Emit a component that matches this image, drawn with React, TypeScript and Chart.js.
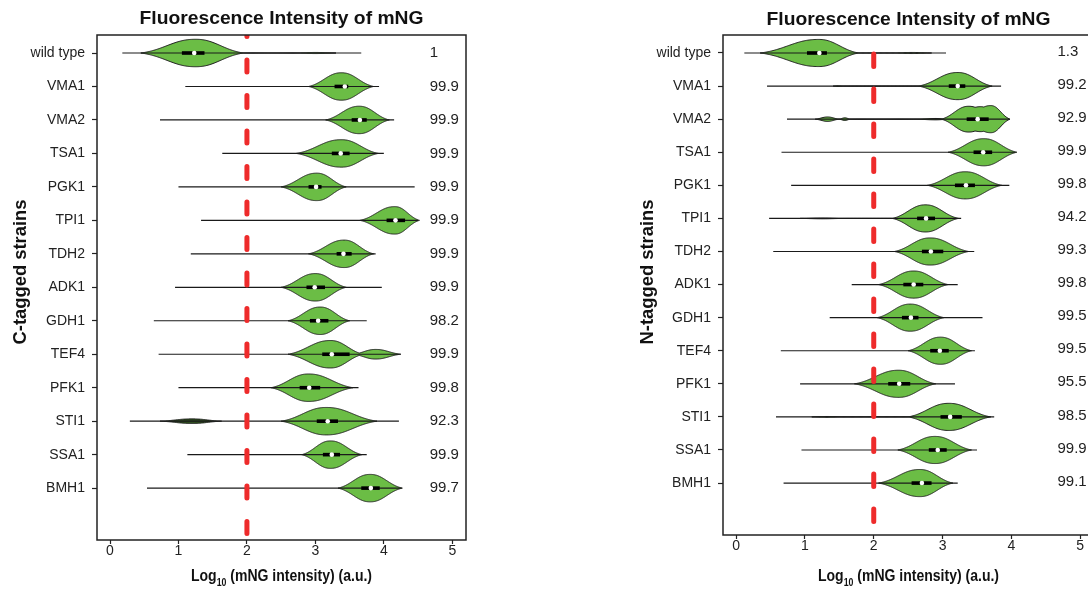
import { useEffect, useRef } from "react";
import { Chart, registerables } from "chart.js";

Chart.register(...registerables);

// ---------------- data ----------------
const strains = ["wild type", "VMA1", "VMA2", "TSA1", "PGK1", "TPI1", "TDH2", "ADK1", "GDH1", "TEF4", "PFK1", "STI1", "SSA1", "BMH1"];
const xTickValues = [0, 1, 2, 3, 4, 5];
const thresholdLog = 2;
const percentColumnX = 4.67;

// C-tagged panel
const cPercent = ["1", "99.9", "99.9", "99.9", "99.9", "99.9", "99.9", "99.9", "98.2", "99.9", "99.8", "92.3", "99.9", "99.7"];
const cWhiskerMin = [0.18, 1.1, 0.73, 1.64, 1.0, 1.33, 1.18, 0.95, 0.64, 0.71, 1.0, 0.29, 1.13, 0.54];
const cWhiskerMax = [3.67, 3.93, 4.15, 4.0, 4.45, 4.5, 3.88, 3.97, 3.75, 4.23, 3.63, 4.22, 3.75, 4.26];
const cQ1 = [1.05, 3.28, 3.53, 3.24, 2.9, 4.04, 3.31, 2.87, 2.92, 3.1, 2.77, 3.02, 3.11, 3.67];
const cMedian = [1.23, 3.43, 3.65, 3.37, 3.01, 4.17, 3.41, 2.99, 3.04, 3.24, 2.91, 3.18, 3.24, 3.81];
const cQ3 = [1.38, 3.48, 3.75, 3.5, 3.09, 4.31, 3.53, 3.14, 3.19, 3.5, 3.07, 3.33, 3.36, 3.94];
// violin components: [start, peak, end, relative density]
const cViolins = [
  [[0.45, 1.25, 1.95, 1], [2.72, 3.0, 3.3, 0.04]],
  [[2.9, 3.38, 3.85, 1]],
  [[3.15, 3.64, 4.08, 1]],
  [[2.72, 3.38, 3.92, 1]],
  [[2.5, 3.02, 3.45, 1]],
  [[3.65, 4.16, 4.52, 1]],
  [[2.9, 3.42, 3.85, 1]],
  [[2.5, 3.0, 3.45, 1]],
  [[2.6, 3.07, 3.5, 1]],
  [[2.6, 3.22, 3.7, 1], [3.55, 3.88, 4.25, 0.35]],
  [[2.35, 2.9, 3.55, 1]],
  [[2.5, 3.16, 3.9, 1]],
  [[2.8, 3.22, 3.68, 1]],
  [[3.33, 3.8, 4.27, 1]],
];
// separate dark sub-population: [row, start, peak, end, relative density]
const cDarkLobes = [[11, 0.73, 1.2, 1.63, 0.17]];

// N-tagged panel
const nPercent = ["1.3", "99.2", "92.9", "99.9", "99.8", "94.2", "99.3", "99.8", "99.5", "99.5", "95.5", "98.5", "99.9", "99.1"];
const nWhiskerMin = [0.12, 0.45, 0.74, 0.66, 0.8, 0.48, 0.54, 1.68, 1.36, 0.65, 0.93, 0.58, 0.95, 0.69];
const nWhiskerMax = [3.05, 3.85, 3.97, 4.06, 3.97, 3.27, 3.46, 3.22, 3.58, 3.47, 3.18, 3.75, 3.5, 3.22];
const nQ1 = [1.03, 3.09, 3.35, 3.45, 3.18, 2.63, 2.7, 2.43, 2.41, 2.82, 2.21, 2.97, 2.8, 2.55];
const nMedian = [1.21, 3.22, 3.51, 3.59, 3.34, 2.76, 2.83, 2.58, 2.54, 2.96, 2.37, 3.11, 2.93, 2.7];
const nQ3 = [1.32, 3.33, 3.67, 3.72, 3.47, 2.89, 3.01, 2.72, 2.65, 3.09, 2.53, 3.28, 3.06, 2.84];
const nViolins = [
  [[0.35, 1.2, 1.78, 1], [2.29, 2.56, 2.84, 0.04]],
  [[1.41, 1.48, 1.56, 0.03], [2.65, 3.22, 3.72, 1]],
  [[1.15, 1.33, 1.5, 0.16], [1.5, 1.58, 1.66, 0.1], [2.6, 2.9, 3.1, 0.05], [2.98, 3.38, 3.8, 0.95], [3.15, 3.55, 3.9, 0.92], [3.3, 3.7, 3.98, 1]],
  [[3.08, 3.6, 4.08, 1]],
  [[2.78, 3.33, 3.86, 1]],
  [[0.93, 1.25, 1.58, 0.03], [2.27, 2.75, 3.23, 1]],
  [[2.3, 2.82, 3.38, 1]],
  [[2.07, 2.58, 3.08, 1]],
  [[2.05, 2.53, 3.02, 1]],
  [[2.5, 2.97, 3.42, 1]],
  [[1.72, 2.36, 2.9, 1]],
  [[1.1, 1.32, 1.54, 0.03], [2.5, 3.09, 3.7, 1]],
  [[2.35, 2.89, 3.42, 1]],
  [[2.07, 2.67, 3.15, 1]],
];
const nDarkLobes: number[][] = [];

// ---------------- styling ----------------
const FONT = "'Liberation Sans', Arial, Helvetica, sans-serif";
const GREEN = "#6bbd45";
const DARK_GREEN = "#2f4d20";
const INK = "#1a1a1a";
const RED = "#ee2b2b";

type Panel = {
  canvasLeft: number;
  canvasW: number;
  area: { l: number; r: number; t: number; b: number };
  yMin: number;
  yMax: number;
  yTitle: string;
  yTitleX: number;
  yTitleY: number;
  titleY: number;
  xTitleY: number;
  dash: number[];
  dashOffset: number;
  percentDy: number;
  percent: string[];
  wMin: number[];
  wMax: number[];
  q1: number[];
  med: number[];
  q3: number[];
  violins: number[][][];
  dark: number[][];
};

const CANVAS_H = 592;

const panels: Panel[] = [
  {
    canvasLeft: 0, canvasW: 545,
    area: { l: 97, r: 466, t: 35, b: 540 },
    yMin: -0.538, yMax: 14.55,
    yTitle: "C-tagged strains", yTitleX: 21, yTitleY: 272,
    titleY: 19.5, xTitleY: 577,
    dash: [12, 23.5], dashOffset: 10.5, percentDy: 0,
    percent: cPercent, wMin: cWhiskerMin, wMax: cWhiskerMax, q1: cQ1, med: cMedian, q3: cQ3,
    violins: cViolins, dark: cDarkLobes,
  },
  {
    canvasLeft: 545, canvasW: 560,
    area: { l: 178, r: 549, t: 35, b: 535 },
    yMin: -0.544, yMax: 14.57,
    yTitle: "N-tagged strains", yTitleX: 103, yTitleY: 272,
    titleY: 20.5, xTitleY: 577,
    dash: [12.5, 22.5], dashOffset: 16, percentDy: -1.5,
    percent: nPercent, wMin: nWhiskerMin, wMax: nWhiskerMax, q1: nQ1, med: nMedian, q3: nQ3,
    violins: nViolins, dark: nDarkLobes,
  },
];

const K = 2.0;
const SHAPE_POW = 2.3;
function widthAt(comps: number[][], v: number): number {
  let w = 0;
  const g0 = Math.exp(-0.5 * Math.pow(K, SHAPE_POW));
  for (const [s, p, e, h] of comps) {
    if (v <= s || v >= e) continue;
    const span = v < p ? p - s : e - p;
    const d = Math.abs((v - p) / span);
    const g = Math.exp(-0.5 * Math.pow(d * K, SHAPE_POW));
    const val = (h * (g - g0)) / (1 - g0);
    if (val > w) w = val;
  }
  return w;
}

function drawShape(ctx: CanvasRenderingContext2D, xs: any, yc: number, half: number, comps: number[][], fill: string) {
  const x0 = Math.min(...comps.map((c) => c[0]));
  const x1 = Math.max(...comps.map((c) => c[2]));
  const N = 200;
  const pts: number[][] = [];
  for (let i = 0; i <= N; i++) {
    const v = x0 + ((x1 - x0) * i) / N;
    pts.push([xs.getPixelForValue(v), widthAt(comps, v) * half]);
  }
  ctx.beginPath();
  ctx.moveTo(pts[0][0], yc);
  for (const [px, w] of pts) ctx.lineTo(px, yc - w);
  for (let i = N; i >= 0; i--) ctx.lineTo(pts[i][0], yc + pts[i][1]);
  ctx.closePath();
  ctx.fillStyle = fill;
  ctx.fill();
  ctx.lineWidth = 1;
  ctx.strokeStyle = INK;
  ctx.stroke();
}

function fittedText(ctx: CanvasRenderingContext2D, text: string, cx: number, cy: number, font: string, targetW: number) {
  ctx.font = font;
  const w = ctx.measureText(text).width;
  ctx.save();
  ctx.translate(cx, cy);
  ctx.scale(targetW / w, 1);
  ctx.textAlign = "center";
  ctx.textBaseline = "middle";
  ctx.fillText(text, 0, 0);
  ctx.restore();
}

function makePlugin(p: Panel) {
  return {
    id: "violins",
    beforeDatasetsDraw(chart: any) {
      const { ctx, chartArea } = chart;
      const xs = chart.scales.x;
      const ys = chart.scales.y;
      ctx.save();
      ctx.beginPath();
      ctx.rect(chartArea.left, chartArea.top, chartArea.right - chartArea.left, chartArea.bottom - chartArea.top);
      ctx.clip();
      p.violins.forEach((comps, row) => {
        const yc = ys.getPixelForValue(row);
        const half = Math.abs(ys.getPixelForValue(row + 0.41) - yc);
        drawShape(ctx, xs, yc, half, comps, GREEN);
      });
      p.dark.forEach(([row, s, pk, e, h]) => {
        const yc = ys.getPixelForValue(row);
        const half = Math.abs(ys.getPixelForValue(row + 0.41) - yc);
        drawShape(ctx, xs, yc, half, [[s, pk, e, h]], DARK_GREEN);
      });
      ctx.strokeStyle = INK;
      ctx.lineWidth = 1.2;
      p.wMin.forEach((mn, row) => {
        const yc = ys.getPixelForValue(row);
        ctx.beginPath();
        ctx.moveTo(xs.getPixelForValue(mn), yc);
        ctx.lineTo(xs.getPixelForValue(p.wMax[row]), yc);
        ctx.stroke();
      });
      ctx.fillStyle = "#000";
      p.q1.forEach((a, row) => {
        const yc = ys.getPixelForValue(row);
        const xa = xs.getPixelForValue(a);
        const xb = xs.getPixelForValue(p.q3[row]);
        ctx.fillRect(xa, yc - 1.8, xb - xa, 3.6);
      });
      ctx.restore();
    },
    afterDraw(chart: any) {
      const { ctx, chartArea } = chart;
      const xs = chart.scales.x;
      const ys = chart.scales.y;
      ctx.save();
      // frame
      ctx.strokeStyle = "#222";
      ctx.lineWidth = 1.5;
      ctx.strokeRect(chartArea.left, chartArea.top, chartArea.right - chartArea.left, chartArea.bottom - chartArea.top);
      // percentages
      ctx.fillStyle = "#222";
      ctx.font = `15px ${FONT}`;
      ctx.textAlign = "left";
      ctx.textBaseline = "middle";
      p.percent.forEach((t, row) => {
        ctx.fillText(t, xs.getPixelForValue(percentColumnX), ys.getPixelForValue(row) + p.percentDy);
      });
      const cx = (chartArea.left + chartArea.right) / 2;
      // title
      ctx.fillStyle = "#111";
      fittedText(ctx, "Fluorescence Intensity of mNG", cx, p.titleY, `bold 18px ${FONT}`, 284);
      // x title with subscript
      const f1 = `bold 16px ${FONT}`;
      const f2 = `bold 10px ${FONT}`;
      ctx.font = f1;
      const wA = ctx.measureText("Log").width;
      const wC = ctx.measureText(" (mNG intensity) (a.u.)").width;
      ctx.font = f2;
      const wB = ctx.measureText("10").width;
      const total = wA + wB + wC;
      const sc = 181 / total;
      ctx.save();
      ctx.translate(cx - 90.5, p.xTitleY);
      ctx.scale(sc, 1);
      ctx.textAlign = "left";
      ctx.textBaseline = "middle";
      ctx.font = f1;
      ctx.fillText("Log", 0, 0);
      ctx.font = f2;
      ctx.fillText("10", wA, 6);
      ctx.font = f1;
      ctx.fillText(" (mNG intensity) (a.u.)", wA + wB, 0);
      ctx.restore();
      // y title
      ctx.save();
      ctx.translate(p.yTitleX, p.yTitleY);
      ctx.rotate(-Math.PI / 2);
      fittedText(ctx, p.yTitle, 0, 0, `bold 18px ${FONT}`, 145);
      ctx.restore();
      ctx.restore();
    },
  };
}

function makeConfig(p: Panel): any {
  return {
    type: "scatter",
    data: {
      datasets: [
        {
          type: "line",
          data: [
            { x: thresholdLog, y: p.yMin },
            { x: thresholdLog, y: p.yMax },
          ],
          borderColor: RED,
          borderWidth: 5,
          borderDash: p.dash,
          borderDashOffset: p.dashOffset,
          borderCapStyle: "round",
          pointRadius: 0,
          fill: false,
          order: 0,
        },
        {
          type: "scatter",
          data: p.med.map((m, i) => ({ x: m, y: i })),
          pointRadius: 2.3,
          pointBackgroundColor: "#ffffff",
          pointBorderWidth: 0,
          order: 1,
        },
      ],
    },
    options: {
      animation: false,
      responsive: false,
      events: [],
      layout: {
        padding: { top: p.area.t, left: 0, right: p.canvasW - p.area.r, bottom: 0 },
      },
      plugins: { legend: { display: false }, tooltip: { enabled: false }, title: { display: false } },
      scales: {
        x: {
          type: "linear",
          min: -0.19,
          max: 5.2,
          afterBuildTicks: (s: any) => {
            s.ticks = xTickValues.map((v) => ({ value: v }));
          },
          afterFit: (s: any) => {
            s.height = CANVAS_H - p.area.b;
          },
          grid: { drawOnChartArea: false, drawTicks: true, tickLength: 4, color: "#222", tickWidth: 1.2 },
          border: { display: false },
          ticks: { color: "#222", font: { family: FONT, size: 14 }, padding: -1, maxRotation: 0, autoSkip: false },
        },
        y: {
          type: "linear",
          reverse: true,
          min: p.yMin,
          max: p.yMax,
          afterBuildTicks: (s: any) => {
            s.ticks = strains.map((_, i) => ({ value: i }));
          },
          afterFit: (s: any) => {
            s.width = p.area.l;
          },
          grid: { drawOnChartArea: false, drawTicks: true, tickLength: 5, color: "#222", tickWidth: 1.2 },
          border: { display: false },
          ticks: {
            color: "#222",
            font: { family: FONT, size: 14 },
            padding: 7,
            autoSkip: false,
            callback: (v: number) => strains[Math.round(v)] ?? "",
          },
        },
      },
    },
    plugins: [makePlugin(p)],
  };
}

function PanelCanvas({ p }: { p: Panel }) {
  const ref = useRef<HTMLCanvasElement | null>(null);
  useEffect(() => {
    if (!ref.current) return;
    const chart = new Chart(ref.current, makeConfig(p));
    return () => chart.destroy();
  }, [p]);
  return (
    <canvas
      ref={ref}
      width={p.canvasW}
      height={CANVAS_H}
      style={{ position: "absolute", left: p.canvasLeft, top: 0, width: p.canvasW, height: CANVAS_H }}
    />
  );
}

export default function App() {
  return (
    <div style={{ position: "fixed", left: 0, top: 0, width: 1088, height: 592, overflow: "hidden", background: "#ffffff" }}>
      {panels.map((p, i) => (
        <PanelCanvas key={i} p={p} />
      ))}
    </div>
  );
}
